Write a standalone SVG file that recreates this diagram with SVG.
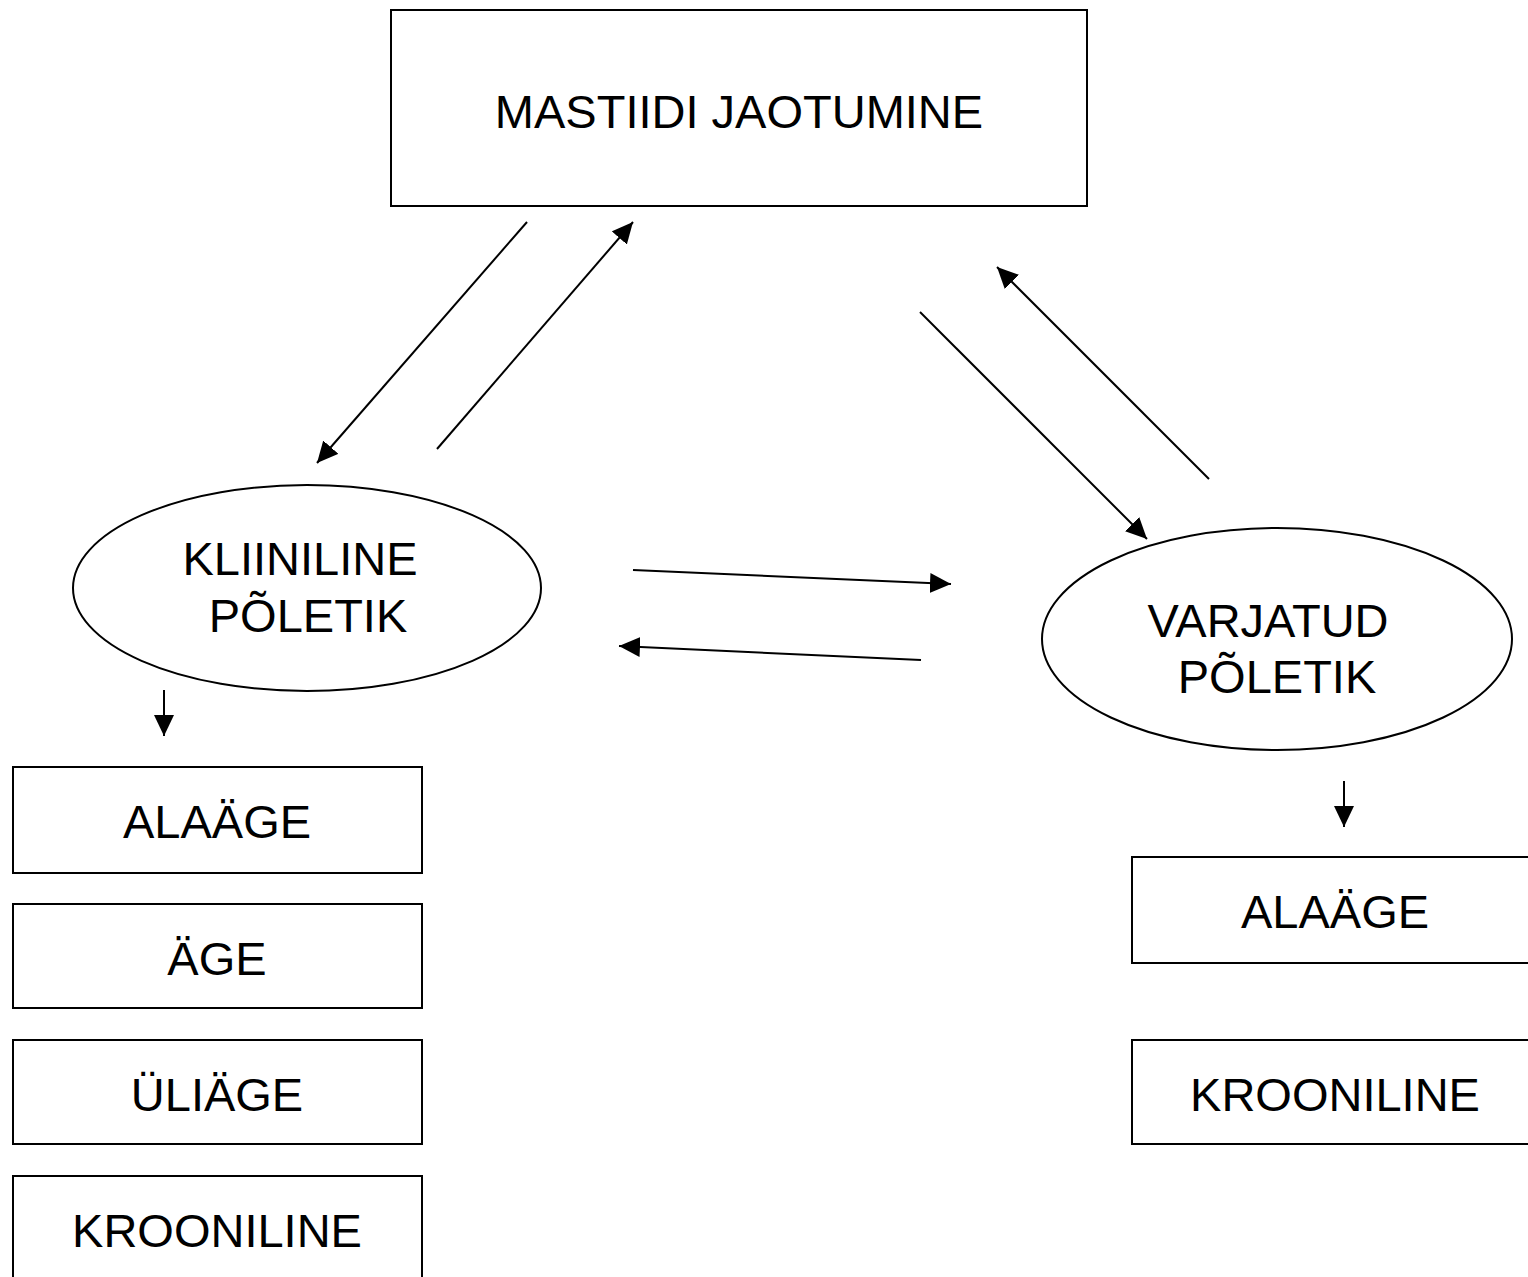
<svg xmlns="http://www.w3.org/2000/svg" width="1528" height="1277" viewBox="0 0 1528 1277">
<style>
.box{fill:#fff;stroke:#000;stroke-width:2}
.t{font-family:"Liberation Sans",Arial,sans-serif;font-size:47px;fill:#000;text-anchor:middle}
.c{stroke:#000;stroke-width:2;fill:none;marker-end:url(#ah)}
</style>
<defs>
<marker id="ah" markerUnits="userSpaceOnUse" markerWidth="22" markerHeight="22" refX="21" refY="10" orient="auto">
<path d="M0,0 L21,10 L0,20 Z" fill="#000"/>
</marker>
</defs>
<rect width="1528" height="1277" fill="#fff"/>
<g id="mastiidi">
<rect class="box" x="391" y="10" width="696" height="196"/>
<text class="t" x="739" y="128">MASTIIDI JAOTUMINE</text>
</g>
<g id="kliiniline">
<ellipse class="box" cx="307" cy="588" rx="234" ry="103"/>
<text class="t" x="300" y="575">KLIINILINE</text>
<text class="t" x="308" y="632">PÕLETIK</text>
</g>
<g id="varjatud">
<ellipse class="box" cx="1277" cy="639" rx="235" ry="111"/>
<text class="t" x="1268" y="637">VARJATUD</text>
<text class="t" x="1277" y="693">PÕLETIK</text>
</g>
<g id="k-alaage">
<rect class="box" x="13" y="767" width="409" height="106"/>
<text class="t" x="217" y="838">ALAÄGE</text>
</g>
<g id="k-age">
<rect class="box" x="13" y="904" width="409" height="104"/>
<text class="t" x="217" y="975">ÄGE</text>
</g>
<g id="k-uliage">
<rect class="box" x="13" y="1040" width="409" height="104"/>
<text class="t" x="217" y="1111">ÜLIÄGE</text>
</g>
<g id="k-krooniline">
<rect class="box" x="13" y="1176" width="409" height="110"/>
<text class="t" x="217" y="1247">KROONILINE</text>
</g>
<g id="v-alaage">
<rect class="box" x="1132" y="857" width="410" height="106"/>
<text class="t" x="1335" y="928">ALAÄGE</text>
</g>
<g id="v-krooniline">
<rect class="box" x="1132" y="1040" width="410" height="104"/>
<text class="t" x="1335" y="1111">KROONILINE</text>
</g>
<g id="connectors">
<line class="c" x1="527" y1="222" x2="317" y2="463"/>
<line class="c" x1="437" y1="449" x2="633" y2="222"/>
<line class="c" x1="1209" y1="479" x2="997" y2="267"/>
<line class="c" x1="920" y1="312" x2="1147" y2="539"/>
<line class="c" x1="633" y1="570" x2="951" y2="584"/>
<line class="c" x1="921" y1="660" x2="619" y2="646"/>
<line class="c" x1="164" y1="690" x2="164" y2="736"/>
<line class="c" x1="1344" y1="781" x2="1344" y2="827"/>
</g>
</svg>
